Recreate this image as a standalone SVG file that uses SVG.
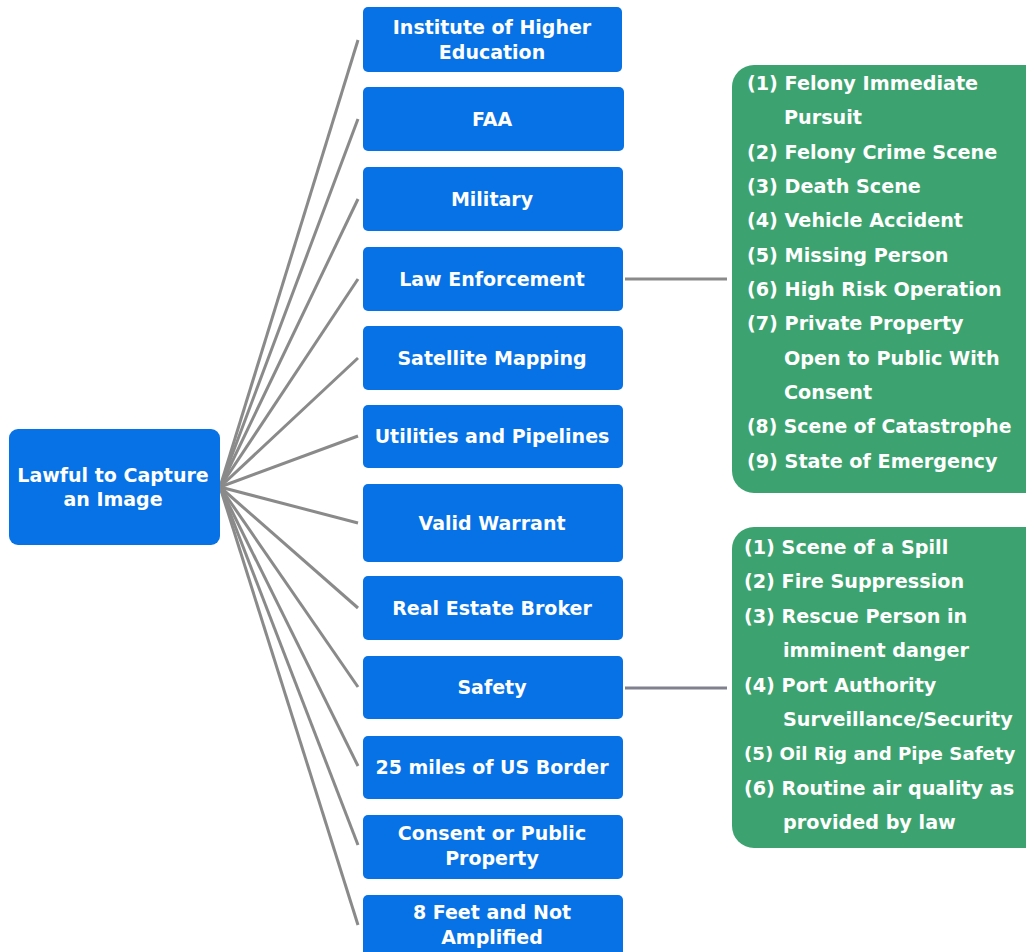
<svg xmlns="http://www.w3.org/2000/svg" width="1026" height="952" viewBox="0 0 1026 952">
<style>
.blue{fill:#0672e6;}
.green{fill:#3ca370;}
.t{font-family:"DejaVu Sans","Liberation Sans",sans-serif;font-weight:bold;fill:#ffffff;}
.bt{font-size:19px;text-anchor:middle;}
.gt{font-size:19.2px;}
.c{stroke:#8a8a8a;stroke-width:3;fill:none;}
.c2{stroke:#80808e;stroke-width:3;fill:none;}
</style>
<rect width="1026" height="952" fill="#ffffff"/>
<g id="connectors">
<line class="c" x1="220" y1="487" x2="358" y2="40"/>
<line class="c" x1="220" y1="487" x2="358" y2="119"/>
<line class="c" x1="220" y1="487" x2="358" y2="199"/>
<line class="c" x1="220" y1="487" x2="358" y2="279"/>
<line class="c" x1="220" y1="487" x2="358" y2="358"/>
<line class="c" x1="220" y1="487" x2="358" y2="436"/>
<line class="c" x1="220" y1="487" x2="358" y2="523"/>
<line class="c" x1="220" y1="487" x2="358" y2="608"/>
<line class="c" x1="220" y1="487" x2="358" y2="687"/>
<line class="c" x1="220" y1="487" x2="358" y2="766"/>
<line class="c" x1="220" y1="487" x2="358" y2="845"/>
<line class="c" x1="220" y1="487" x2="358" y2="925"/>
<line class="c" x1="625" y1="279" x2="727" y2="279"/>
<line class="c2" x1="625" y1="688" x2="727" y2="688"/>
</g>
<g id="root">
<rect class="blue" x="9" y="429" width="211" height="116" rx="9"/>
<text class="t bt" x="113" y="482">Lawful to Capture</text>
<text class="t bt" x="113" y="506">an Image</text>
</g>
<g id="n1">
<rect class="blue" x="363" y="7" width="259" height="65" rx="5"/>
<text class="t bt" x="492" y="34">Institute of Higher</text>
<text class="t bt" x="492" y="59">Education</text>
</g>
<g id="n2">
<rect class="blue" x="363" y="87" width="261" height="64" rx="5"/>
<text class="t bt" x="492" y="126">FAA</text>
</g>
<g id="n3">
<rect class="blue" x="363" y="167" width="260" height="64" rx="5"/>
<text class="t bt" x="492" y="206">Military</text>
</g>
<g id="n4">
<rect class="blue" x="363" y="247" width="260" height="64" rx="5"/>
<text class="t bt" x="492" y="286">Law Enforcement</text>
</g>
<g id="n5">
<rect class="blue" x="363" y="326" width="260" height="64" rx="5"/>
<text class="t bt" x="492" y="365">Satellite Mapping</text>
</g>
<g id="n6">
<rect class="blue" x="363" y="405" width="260" height="63" rx="5"/>
<text class="t bt" x="492" y="443">Utilities and Pipelines</text>
</g>
<g id="n7">
<rect class="blue" x="363" y="484" width="260" height="78" rx="5"/>
<text class="t bt" x="492" y="530">Valid Warrant</text>
</g>
<g id="n8">
<rect class="blue" x="363" y="576" width="260" height="64" rx="5"/>
<text class="t bt" x="492" y="615">Real Estate Broker</text>
</g>
<g id="n9">
<rect class="blue" x="363" y="656" width="260" height="63" rx="5"/>
<text class="t bt" x="492" y="694">Safety</text>
</g>
<g id="n10">
<rect class="blue" x="363" y="736" width="260" height="63" rx="5"/>
<text class="t bt" x="492" y="774">25 miles of US Border</text>
</g>
<g id="n11">
<rect class="blue" x="363" y="815" width="260" height="64" rx="5"/>
<text class="t bt" x="492" y="840">Consent or Public</text>
<text class="t bt" x="492" y="865">Property</text>
</g>
<g id="n12">
<rect class="blue" x="363" y="895" width="260" height="70" rx="5"/>
<text class="t bt" x="492" y="919">8 Feet and Not</text>
<text class="t bt" x="492" y="944">Amplified</text>
</g>
<g id="law-list">
<rect class="green" x="732" y="65" width="320" height="428" rx="22"/>
<text class="t gt" x="747" y="90">(1) Felony Immediate</text>
<text class="t gt" x="784" y="124">Pursuit</text>
<text class="t gt" x="747" y="159">(2) Felony Crime Scene</text>
<text class="t gt" x="747" y="193">(3) Death Scene</text>
<text class="t gt" x="747" y="227">(4) Vehicle Accident</text>
<text class="t gt" x="747" y="262">(5) Missing Person</text>
<text class="t gt" x="747" y="296">(6) High Risk Operation</text>
<text class="t gt" x="747" y="330">(7) Private Property</text>
<text class="t gt" x="784" y="365">Open to Public With</text>
<text class="t gt" x="784" y="399">Consent</text>
<text class="t gt" x="747" y="433" style="font-size:18.8px">(8) Scene of Catastrophe</text>
<text class="t gt" x="747" y="468">(9) State of Emergency</text>
</g>
<g id="safety-list">
<rect class="green" x="732" y="527" width="320" height="321" rx="22"/>
<text class="t gt" x="744" y="554">(1) Scene of a Spill</text>
<text class="t gt" x="744" y="588">(2) Fire Suppression</text>
<text class="t gt" x="744" y="623">(3) Rescue Person in</text>
<text class="t gt" x="783" y="657">imminent danger</text>
<text class="t gt" x="744" y="692">(4) Port Authority</text>
<text class="t gt" x="783" y="726">Surveillance/Security</text>
<text class="t gt" x="744" y="760" style="font-size:18.2px">(5) Oil Rig and Pipe Safety</text>
<text class="t gt" x="744" y="795">(6) Routine air quality as</text>
<text class="t gt" x="783" y="829">provided by law</text>
</g>
</svg>
